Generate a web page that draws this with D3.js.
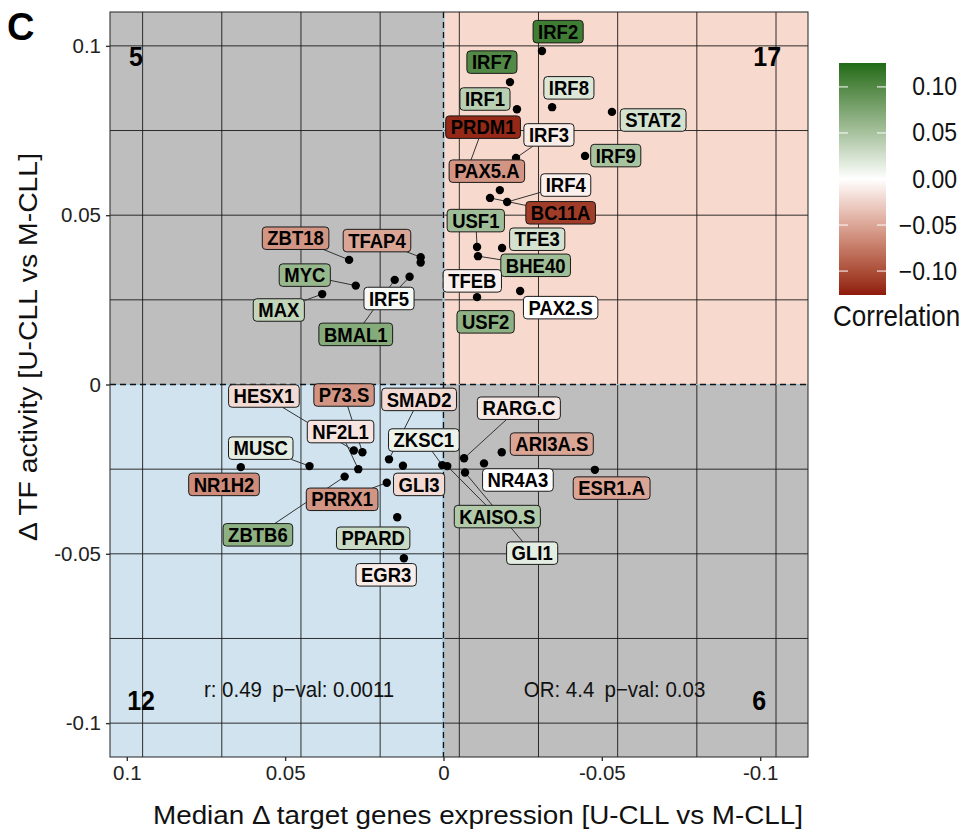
<!DOCTYPE html>
<html>
<head>
<meta charset="utf-8">
<script src="https://cdn.jsdelivr.net/npm/d3@7"></script>
<style>
  body { margin: 0; background: #fff; }
  text { font-family: "Liberation Sans", Arial, Helvetica, sans-serif; }
</style>
</head>
<body>
<svg id="chart" width="963" height="831"></svg>
<script>
// transcription factors, one entry per point ('' = unlabelled point)
var tfNames = ['IRF2', 'IRF7', 'IRF1', 'IRF8', 'STAT2', 'PRDM1', 'IRF3', 'IRF9', 'PAX5.A', 'BC11A',
  'IRF4', 'USF1', 'TFE3', 'BHE40', 'TFEB', 'USF2', 'PAX2.S', 'ZBT18', 'TFAP4', '',
  'MYC', 'MAX', 'IRF5', 'BMAL1', 'HESX1', 'P73.S', 'SMAD2', 'NF2L1', 'ZKSC1', 'MUSC',
  'NR1H2', 'GLI3', 'PRRX1', 'ZBTB6', 'PPARD', 'EGR3', 'RARG.C', 'ARI3A.S', 'NR4A3', 'ESR1.A',
  'KAISO.S', 'GLI1'];

// median delta of target genes expression (x)
var targetDelta = [-0.0311, -0.0210, -0.0232, -0.0343, -0.0532, -0.0081, -0.0229, -0.0447, -0.0178, -0.0147,
  -0.0201, -0.0106, -0.0185, -0.0109, -0.0106, -0.0131, -0.0242, 0.0298, 0.0072, 0.0072,
  0.0277, 0.0383, 0.0107, 0.0154, 0.0283, 0.0256, 0.0172, 0.0269, 0.0004, 0.0423,
  0.0640, 0.0128, 0.0179, 0.0312, 0.0146, 0.0125, -0.0065, -0.0184, -0.0128, -0.0478,
  -0.0012, -0.0068];

// delta TF activity (y)
var activityDelta = [0.0985, 0.0893, 0.0813, 0.0819, 0.0805, 0.0648, 0.0669, 0.0675, 0.0574, 0.0551,
  0.0539, 0.0406, 0.0403, 0.0379, 0.0258, 0.0184, 0.0276, 0.0368, 0.0376, 0.0360,
  0.0292, 0.0267, 0.0318, 0.0309, -0.0195, -0.0200, -0.0221, -0.0250, -0.0238, -0.0241,
  -0.0244, -0.0240, -0.0290, -0.0272, -0.0392, -0.0513, -0.0218, -0.0200, -0.0233, -0.0252,
  -0.0241, -0.0260];

// correlation used for the label fill
var correlation = [0.11, 0.10, 0.04, 0.02, 0.025, -0.12, -0.01, 0.05, -0.06, -0.11,
  -0.008, 0.055, 0.025, 0.055, -0.008, 0.065, 0.0, -0.06, -0.05, 0,
  0.06, 0.035, 0.005, 0.07, -0.02, -0.06, -0.02, -0.015, 0.01, 0.015,
  -0.065, -0.02, -0.06, 0.065, 0.03, -0.01, -0.012, -0.05, 0, -0.05,
  0.045, 0.015];

// repelled label positions, in data units
var labelX = [-0.0362, -0.0153, -0.0131, -0.0396, -0.0662, -0.0125, -0.0333, -0.0544, -0.0137, -0.0370,
  -0.0386, -0.0102, -0.0296, -0.0291, -0.0091, -0.0133, -0.0370, 0.0467, 0.0210, 0.0072,
  0.0438, 0.0520, 0.0172, 0.0277, 0.0567, 0.0314, 0.0077, 0.0325, 0.0062, 0.0577,
  0.0693, 0.0077, 0.0320, 0.0586, 0.0222, 0.0181, -0.0238, -0.0342, -0.0235, -0.0531,
  -0.0170, -0.0280];
var labelY = [0.1042, 0.0952, 0.0843, 0.0876, 0.0781, 0.0760, 0.0737, 0.0676, 0.0630, 0.0507,
  0.0589, 0.0484, 0.0429, 0.0352, 0.0306, 0.0185, 0.0227, 0.0432, 0.0425, 0.0360,
  0.0323, 0.0220, 0.0254, 0.0148, -0.0034, -0.0031, -0.0044, -0.0139, -0.0164, -0.0188,
  -0.0295, -0.0295, -0.0339, -0.0444, -0.0454, -0.0562, -0.0070, -0.0176, -0.0282, -0.0306,
  -0.0390, -0.0498];

var xTicks = [0.1, 0.05, 0, -0.05, -0.1];
var yTicks = [0.1, 0.05, 0, -0.05, -0.1];
var xGrid = [0.095, 0.07, 0.045, 0.02, -0.005, -0.03, -0.055, -0.08, -0.105];
var yGrid = [0.1, 0.075, 0.05, 0.025, -0.025, -0.05, -0.075, -0.1];
var legendTicks = [0.1, 0.05, 0, -0.05, -0.1];

// quadrant counts: top-left, top-right, bottom-left, bottom-right
var quadrantCounts = ['5', '17', '12', '6'];
var statsLeft = 'r: 0.49\u2002p\u2212val: 0.0011';
var statsRight = 'OR: 4.4\u2002p\u2212val: 0.03';

var svg = d3.select('#chart');
var x = d3.scaleLinear().domain([0.1053, -0.1151]).range([110, 808]);
var y = d3.scaleLinear().domain([0.110, -0.110]).range([12, 757]);

var corrColor = d3.scaleLinear()
  .domain([-0.126, 0, 0.126])
  .range(['#8e1a0c', '#ffffff', '#1f6b16'])
  .interpolate(d3.interpolateLab)
  .clamp(true);

var points = tfNames.map(function (name, i) {
  return {
    name: name, x: targetDelta[i], y: activityDelta[i],
    corr: correlation[i], lx: labelX[i], ly: labelY[i]
  };
});

// text drawn slightly taller than wide, like the reference raster
function tallText(g, px, py, size, str, stretch) {
  return g.append('text')
    .attr('transform', 'translate(' + px + ',' + py + ')scale(1,' + (stretch || 1.1) + ')')
    .style('font-size', size + 'px')
    .text(str);
}

// quadrant backgrounds
var x0 = x.domain()[0], x1 = x.domain()[1], y0 = y.domain()[0], y1 = y.domain()[1];
var quads = [
  { xa: x0, xb: 0, ya: y0, yb: 0, fill: '#bebebe' },
  { xa: 0, xb: x1, ya: y0, yb: 0, fill: '#f8d9cd' },
  { xa: x0, xb: 0, ya: 0, yb: y1, fill: '#d0e3ee' },
  { xa: 0, xb: x1, ya: 0, yb: y1, fill: '#bebebe' }
];
svg.append('g').selectAll('rect').data(quads).enter().append('rect')
  .attr('x', function (d) { return x(d.xa); })
  .attr('y', function (d) { return y(d.ya); })
  .attr('width', function (d) { return x(d.xb) - x(d.xa); })
  .attr('height', function (d) { return y(d.yb) - y(d.ya); })
  .attr('fill', function (d) { return d.fill; });

// grid
var grid = svg.append('g').attr('stroke', '#1a1a1a').attr('stroke-width', 0.9);
grid.selectAll('.vg').data(xGrid).enter().append('line')
  .attr('x1', function (d) { return x(d); }).attr('x2', function (d) { return x(d); })
  .attr('y1', y(y0)).attr('y2', y(y1));
grid.selectAll('.hg').data(yGrid).enter().append('line')
  .attr('y1', function (d) { return y(d); }).attr('y2', function (d) { return y(d); })
  .attr('x1', x(x0)).attr('x2', x(x1));

// zero lines
var zero = svg.append('g');
zero.append('line').attr('x1', x(0)).attr('x2', x(0)).attr('y1', y(y0)).attr('y2', y(y1))
  .attr('stroke', '#9cc6df').attr('stroke-width', 2);
zero.append('line').attr('y1', y(0)).attr('y2', y(0)).attr('x1', x(x0)).attr('x2', x(x1))
  .attr('stroke', '#9cc6df').attr('stroke-width', 1.2);
zero.append('line').attr('x1', x(0)).attr('x2', x(0)).attr('y1', y(y0)).attr('y2', y(y1))
  .attr('stroke', '#111').attr('stroke-width', 1.3).attr('stroke-dasharray', '6,4');
zero.append('line').attr('y1', y(0)).attr('y2', y(0)).attr('x1', x(x0)).attr('x2', x(x1))
  .attr('stroke', '#111').attr('stroke-width', 1.3).attr('stroke-dasharray', '6,4');

// panel border
svg.append('rect')
  .attr('x', x(x0)).attr('y', y(y0))
  .attr('width', x(x1) - x(x0)).attr('height', y(y1) - y(y0))
  .attr('fill', 'none').attr('stroke', '#222').attr('stroke-width', 1);

// quadrant counts
var countPos = [[0.0971, 0.0967], [-0.1022, 0.0967], [0.0955, -0.0935], [-0.0997, -0.0935]];
var counts = svg.append('g').attr('text-anchor', 'middle').style('font-weight', 'bold');
quadrantCounts.forEach(function (c, i) {
  tallText(counts, x(countPos[i][0]), y(countPos[i][1]) + 9, 25, c);
});

// stats annotations
var stats = svg.append('g').attr('text-anchor', 'middle').attr('fill', '#111');
tallText(stats, x(0.0456), y(-0.0902) + 7, 20.5, statsLeft);
tallText(stats, x(-0.054), y(-0.0902) + 7, 20.5, statsRight);

// axes
var fmt = function (d) { return String(d); };
var xAxis = svg.append('g').attr('transform', 'translate(0,' + y(y1) + ')')
  .call(d3.axisBottom(x).tickValues(xTicks).tickFormat(fmt).tickSize(4).tickPadding(4));
var yAxis = svg.append('g').attr('transform', 'translate(' + x(x0) + ',0)')
  .call(d3.axisLeft(y).tickValues(yTicks).tickFormat(fmt).tickSize(4).tickPadding(5));
[xAxis, yAxis].forEach(function (ax) {
  ax.select('.domain').remove();
  ax.selectAll('.tick line').attr('stroke', '#333').attr('stroke-width', 1.4);
  ax.selectAll('.tick text').attr('fill', '#222').style('font-size', '20.5px')
    .style('font-family', '"Liberation Sans", Arial, sans-serif');
});

svg.append('text').attr('x', 478).attr('y', 824).attr('text-anchor', 'middle')
  .style('font-size', '26px').attr('fill', '#111')
  .attr('textLength', 650).attr('lengthAdjust', 'spacingAndGlyphs')
  .text('Median \u0394 target genes expression [U-CLL vs M-CLL]');
svg.append('text').attr('transform', 'translate(37,347)rotate(-90)').attr('text-anchor', 'middle')
  .style('font-size', '26px').attr('fill', '#111')
  .attr('textLength', 388).attr('lengthAdjust', 'spacingAndGlyphs')
  .text('\u0394 TF activity [U-CLL vs M-CLL]');

svg.append('text').attr('x', 7).attr('y', 40)
  .style('font-size', '38px').style('font-weight', 'bold').text('C');

// labels: measure first, then draw segments, points and boxes
var labelLayer = svg.append('g');
var labelled = points.filter(function (d) { return d.name !== ''; });
var padX = 5, boxH = 22.5, labelSize = 18.5;
var measure = svg.append('g');
labelled.forEach(function (d) {
  var t = measure.append('text').style('font-size', labelSize + 'px').style('font-weight', 'bold').text(d.name);
  d.w = t.node().getComputedTextLength() + 2 * padX;
  d.cx = x(d.lx);
  d.cy = y(d.ly);
});
measure.remove();

var segs = [];
labelled.forEach(function (d) {
  var px = x(d.x), py = y(d.y);
  var bx0 = d.cx - d.w / 2, bx1 = d.cx + d.w / 2, by0 = d.cy - boxH / 2, by1 = d.cy + boxH / 2;
  var ddx = Math.max(bx0 - px, 0, px - bx1), ddy = Math.max(by0 - py, 0, py - by1);
  if (Math.sqrt(ddx * ddx + ddy * ddy) <= 10) return;
  var vx = px - d.cx, vy = py - d.cy;
  var t = Math.min(vx === 0 ? Infinity : (d.w / 2) / Math.abs(vx), vy === 0 ? Infinity : (boxH / 2) / Math.abs(vy));
  segs.push({ x1: d.cx + t * vx, y1: d.cy + t * vy, x2: px, y2: py });
});
labelLayer.append('g').selectAll('line').data(segs).enter().append('line')
  .attr('x1', function (d) { return d.x1; }).attr('y1', function (d) { return d.y1; })
  .attr('x2', function (d) { return d.x2; }).attr('y2', function (d) { return d.y2; })
  .attr('stroke', '#333').attr('stroke-width', 1);

labelLayer.append('g').selectAll('circle').data(points).enter().append('circle')
  .attr('cx', function (d) { return x(d.x); })
  .attr('cy', function (d) { return y(d.y); })
  .attr('r', 4.2).attr('fill', '#000');

var boxes = labelLayer.append('g').selectAll('g').data(labelled).enter().append('g')
  .attr('transform', function (d) { return 'translate(' + d.cx + ',' + d.cy + ')'; });
boxes.append('rect')
  .attr('x', function (d) { return -d.w / 2; }).attr('y', -boxH / 2)
  .attr('width', function (d) { return d.w; }).attr('height', boxH)
  .attr('rx', 3.5)
  .attr('fill', function (d) { return corrColor(d.corr); })
  .attr('stroke', '#1a1a1a').attr('stroke-width', 1);
boxes.append('text')
  .attr('text-anchor', 'middle')
  .attr('transform', 'translate(0,7.2)scale(1,1.1)')
  .style('font-size', labelSize + 'px').style('font-weight', 'bold').attr('fill', '#000')
  .text(function (d) { return d.name; });

// colour bar legend
var legTop = 63, legBottom = 295, legX = 839, legW = 47;
var ly = d3.scaleLinear().domain([0.126, -0.126]).range([legTop, legBottom]);
var grad = svg.append('defs').append('linearGradient').attr('id', 'corrGrad')
  .attr('x1', 0).attr('x2', 0).attr('y1', 0).attr('y2', 1);
d3.range(0, 21).forEach(function (i) {
  var v = 0.126 - i * 0.252 / 20;
  grad.append('stop').attr('offset', (i / 20 * 100) + '%').attr('stop-color', corrColor(v));
});
svg.append('rect').attr('x', legX).attr('y', legTop).attr('width', legW).attr('height', legBottom - legTop)
  .attr('fill', 'url(#corrGrad)');
var legTickG = svg.append('g').attr('stroke', '#fff').attr('stroke-width', 1);
legendTicks.forEach(function (v) {
  legTickG.append('line').attr('x1', legX).attr('x2', legX + 9).attr('y1', ly(v)).attr('y2', ly(v));
  legTickG.append('line').attr('x1', legX + legW - 9).attr('x2', legX + legW).attr('y1', ly(v)).attr('y2', ly(v));
});
var legText = svg.append('g').attr('text-anchor', 'end').attr('fill', '#111');
legendTicks.forEach(function (v) {
  tallText(legText, 957, ly(v) + 8.5, 23, d3.format('.2f')(v));
});
tallText(svg.append('g').attr('fill', '#111'), 833, 326, 26, 'Correlation');
</script>
</body>
</html>
